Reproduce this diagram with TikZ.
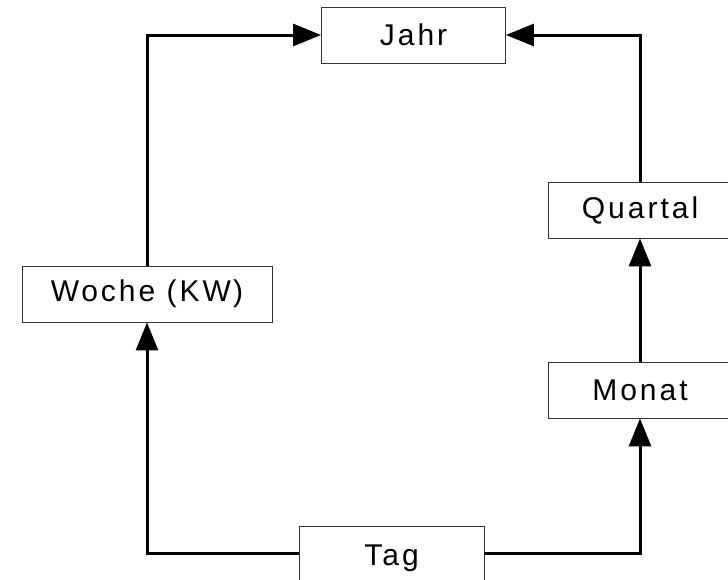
\documentclass[tikz,border=0pt]{standalone}
\usepackage{fontspec}
\setmainfont[LetterSpace=10]{Liberation Sans}
\usetikzlibrary{arrows.meta}
\begin{document}
\begin{tikzpicture}[x=1pt,y=-1pt,
  box/.style={draw=black!80,line width=0.9pt,fill=white,minimum height=56pt,inner sep=0pt,font=\fontsize{30}{33}\selectfont,anchor=center},
  conn/.style={line width=3pt,-{Triangle[length=28pt,width=22pt]}},
  plain/.style={line width=3pt}]
\useasboundingbox (0,0) rectangle (728,579);
\node[box,minimum width=184pt] (jahr) at (413.5,35) {Jahr};
\node[box,minimum width=250pt] (woche) at (147,294) {W\kern2pt oche (KW\kern2pt)};
\node[box,minimum width=184pt] (quartal) at (640,210) {Quartal};
\node[box,minimum width=184pt] (monat) at (640,390) {Monat};
\node[box,minimum width=185pt,minimum height=64pt] (tag) at (391.5,558) {Tag};
\coordinate (c1) at (147,553);
\coordinate (c2) at (640,553);
\coordinate (c3) at (147,35);
\coordinate (c4) at (640,35);
\draw[conn] (tag.west |- c1) -- (c1) -- (woche.south);
\draw[conn] (tag.east |- c2) -- (c2) -- (monat.south);
\draw[conn] (monat.north) -- (quartal.south);
\draw[conn] (woche.north) -- (c3) -- (jahr.west);
\draw[conn] (quartal.north) -- (c4) -- (jahr.east);
\end{tikzpicture}
\end{document}
